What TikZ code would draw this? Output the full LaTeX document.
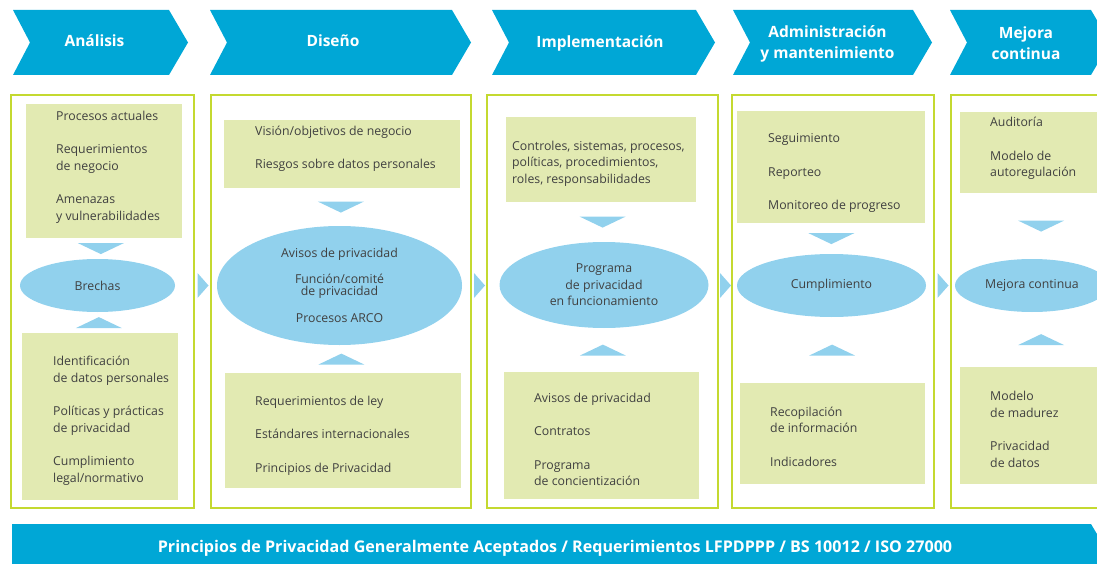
\documentclass[tikz,border=0pt]{standalone}
\usepackage{fontspec}
\setmainfont{Open Sans}
\usepackage{xcolor}
\usetikzlibrary{shapes.geometric, positioning, calc}
\definecolor{chevblue}{RGB}{0, 167, 214}
\definecolor{ovalblue}{RGB}{145, 209, 237}
\definecolor{boxfill}{RGB}{226, 234, 178}
\definecolor{framegreen}{RGB}{196, 217, 48}
\definecolor{textgray}{RGB}{64, 64, 64}

\begin{document}
\begin{tikzpicture}[x=1pt, y=-1pt,
  phase/.style={text=white, font=\bfseries\fontsize{15.5}{21}\selectfont, align=center, inner sep=0pt},
  panel/.style={draw=framegreen, line width=2pt, anchor=north west, inner sep=0pt},
  itembox/.style={fill=boxfill, anchor=north west, inner sep=0pt},
  itemtext/.style={text=textgray, font=\fontsize{12.3}{16.5}\selectfont, align=left, anchor=west, inner sep=0pt},
  oval/.style={ellipse, fill=ovalblue, text=textgray, font=\fontsize{12.3}{16.5}\selectfont, align=center, inner sep=0pt},
  downtri/.pic={\fill[ovalblue] (-23,-5.5) -- (23,-5.5) -- (0,5.5) -- cycle;},
  uptri/.pic={\fill[ovalblue] (-23,5.5) -- (23,5.5) -- (0,-5.5) -- cycle;},
  nexttri/.pic={\fill[ovalblue] (-5,-12.5) -- (6,0) -- (-5,12.5) -- cycle;}]
\useasboundingbox (0,0) rectangle (1097,564);
\clip (0,0) rectangle (1097,564);

% phase chevrons
\fill[chevblue] (13,10) -- (169,10) -- (188,42.5) -- (169,75) -- (13,75) -- (30,42.5) -- cycle;
\fill[chevblue] (210,10) -- (452,10) -- (471,42.5) -- (452,75) -- (210,75) -- (227,42.5) -- cycle;
\fill[chevblue] (492,10) -- (696,10) -- (715,42.5) -- (696,75) -- (492,75) -- (509,42.5) -- cycle;
\fill[chevblue] (733,10) -- (913,10) -- (932,42.5) -- (913,75) -- (733,75) -- (750,42.5) -- cycle;
\fill[chevblue] (950,10) -- (1091,10) -- (1110,42.5) -- (1091,75) -- (950,75) -- (967,42.5) -- cycle;
\node[phase] (hana) at (94.5,41) {Análisis};
\node[phase] (hdis) at (333,41) {Diseño};
\node[phase] (himp) at (600,43) {Implementación};
\node[phase] (hadm) at (827.5,43.5) {Administración\\y mantenimiento};
\node[phase] (hmej) at (1026,43.5) {Mejora\\continua};

% panels
\node[panel, minimum width=183, minimum height=413] (pana) at (10,94) {};
\node[panel, minimum width=260, minimum height=413] (pdis) at (210,94) {};
\node[panel, minimum width=231, minimum height=413] (pimp) at (486,94) {};
\node[panel, minimum width=202, minimum height=413] (padm) at (731,94) {};
\node[panel, minimum width=200, minimum height=413] (pmej) at (950,94) {};

% Analisis
\node[itembox, minimum width=156, minimum height=134] (ana1) at (26,104) {};
\node[itemtext] (ana1t) at (56,167) {Procesos actuales\\[17pt]Requerimientos\\de negocio\\[17pt]Amenazas\\y vulnerabilidades};
\node[oval, minimum width=155, minimum height=53] (brechas) at (97.5,285.5) {Brechas};
\node[itembox, minimum width=156, minimum height=167] (ana2) at (22,333) {};
\node[itemtext] (ana2t) at (53,421) {Identificación\\de datos personales\\[17pt]Políticas y prácticas\\de privacidad\\[17pt]Cumplimiento\\legal/normativo};
\pic at ($(ana1.south)!0.5!(brechas.north)$) {downtri};
\pic at ($(brechas.south)!0.5!(ana2.north)$) {uptri};

% Diseno
\node[itembox, minimum width=236, minimum height=68] (dis1) at (224,120) {};
\node[itemtext] (dis1t) at (255,149) {Visión/objetivos de negocio\\[17pt]Riesgos sobre datos personales};
\node[oval, minimum width=245, minimum height=119] (avisos) at (339.5,285.5) {Avisos de privacidad\\[9.5pt]Función/comité\\[-4.5pt]de privacidad\\[10.5pt]Procesos ARCO};
\node[itembox, minimum width=236, minimum height=115] (dis2) at (225,373) {};
\node[itemtext] (dis2t) at (255,435.5) {Requerimientos de ley\\[17pt]Estándares internacionales\\[17pt]Principios de Privacidad};
\pic at ($(dis1.south)!0.5!(avisos.north)$) {downtri};
\pic at ($(avisos.south)!0.5!(dis2.north)$) {uptri};

% Implementacion
\node[itembox, minimum width=190, minimum height=85] (imp1) at (506,117) {};
\node[itemtext] (imp1t) at (512,163.5) {Controles, sistemas, procesos,\\políticas, procedimientos,\\roles, responsabilidades};
\node[oval, minimum width=209, minimum height=86] (programa) at (604,285) {Programa\\de privacidad\\en funcionamiento};
\node[itembox, minimum width=195, minimum height=127] (imp2) at (504,372) {};
\node[itemtext] (imp2t) at (534,439.5) {Avisos de privacidad\\[17pt]Contratos\\[17pt]Programa\\de concientización};
\pic at ($(imp1.south)!0.5!(programa.north)$) {downtri};
\pic at ($(programa.south)!0.5!(imp2.north)$) {uptri};

% Administracion
\node[itembox, minimum width=188, minimum height=112] (adm1) at (737,111) {};
\node[itemtext] (adm1t) at (768,173) {Seguimiento\\[17pt]Reporteo\\[17pt]Monitoreo de progreso};
\node[oval, minimum width=189, minimum height=63] (cumpl) at (831.5,285.5) {Cumplimiento};
\node[itembox, minimum width=185, minimum height=101] (adm2) at (740,383) {};
\node[itemtext] (adm2t) at (770,436.5) {Recopilación\\de información\\[17pt]Indicadores};
\pic at ($(adm1.south)!0.5!(cumpl.north)$) {downtri};
\pic at ($(cumpl.south)!0.5!(adm2.north)$) {uptri};

% Mejora continua
\node[itembox, minimum width=180, minimum height=81] (mej1) at (960,112) {};
\node[itemtext] (mej1t) at (990,148.5) {Auditoría\\[17pt]Modelo de\\autoregulación};
\node[oval, minimum width=154, minimum height=53] (mejora) at (1032,285.5) {Mejora continua};
\node[itembox, minimum width=180, minimum height=117] (mej2) at (960,367) {};
\node[itemtext] (mej2t) at (990,429.5) {Modelo\\de madurez\\[17pt]Privacidad\\de datos};
\pic at ($(mej1.south)!0.5!(mejora.north)$) {downtri};
\pic at ($(mejora.south)!0.5!(mej2.north)$) {uptri};

% between phases
\pic at ($(pana.east |- brechas)!0.5!(pdis.west |- brechas)$) {nexttri};
\pic at ($(pdis.east |- brechas)!0.5!(pimp.west |- brechas)$) {nexttri};
\pic at ($(pimp.east |- brechas)!0.5!(padm.west |- brechas)$) {nexttri};
\pic at ($(padm.east |- brechas)!0.5!(pmej.west |- brechas)$) {nexttri};

% bottom banner
\fill[chevblue] (12,524) -- (1091,524) -- (1110,556) -- (1091,588) -- (12,588) -- cycle;
\node[phase, font=\bfseries\fontsize{16.1}{18}\selectfont] (basis) at (555,548) {Principios de Privacidad Generalmente Aceptados / Requerimientos LFPDPPP / BS 10012 / ISO 27000};
\end{tikzpicture}
\end{document}
